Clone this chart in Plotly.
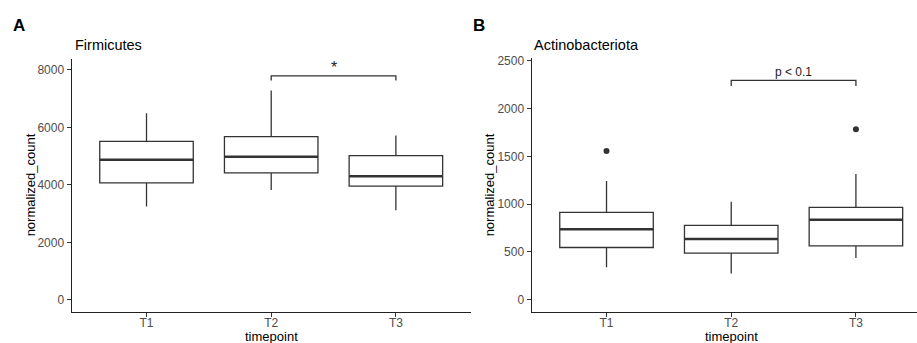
import plotly.graph_objects as go

# ---- data ----
timepoints = ["T1", "T2", "T3"]
xpos = [1, 2, 3]

firm_low = [3250, 3820, 3120]
firm_q1 = [4070, 4420, 3955]
firm_med = [4870, 4975, 4300]
firm_q3 = [5510, 5675, 5020]
firm_high = [6490, 7280, 5720]
firm_out_x = []
firm_out_y = []
firm_bracket = {"x1": 2, "x2": 3, "top": 7790, "tick": 7630, "label": "*",
                "label_y": 8090, "label_size": 16}

act_low = [340, 275, 437]
act_q1 = [547, 489, 564]
act_med = [737, 637, 837]
act_q3 = [915, 778, 967]
act_high = [1243, 1026, 1315]
act_out_x = [1, 3]
act_out_y = [1556, 1783]
act_bracket = {"x1": 2, "x2": 3, "top": 2293, "tick": 2234, "label": "p < 0.1",
               "label_y": 2380, "label_size": 12}

BOX_W = 0.75
LINE_C = "#333333"
W, H = 917, 343
FONT = "Liberation Sans, Arial, sans-serif"

fig = go.Figure()


def add_panel(xa, ya, low, q1, med, q3, high, ox, oy, br):
    xref = "x" if xa == 1 else "x%d" % xa
    yref = "y" if ya == 1 else "y%d" % ya
    fig.add_trace(go.Box(
        x=xpos, q1=q1, median=med, q3=q3, lowerfence=low, upperfence=high,
        width=BOX_W, whiskerwidth=0, fillcolor="white",
        line=dict(color=LINE_C, width=1.3), boxpoints=False,
        xaxis=xref, yaxis=yref, showlegend=False, hoverinfo="skip"))
    # thicker medians
    for xi, m in zip(xpos, med):
        fig.add_trace(go.Scatter(
            x=[xi - BOX_W / 2, xi + BOX_W / 2], y=[m, m], mode="lines",
            line=dict(color=LINE_C, width=2.5), xaxis=xref, yaxis=yref,
            showlegend=False, hoverinfo="skip"))
    if ox:
        fig.add_trace(go.Scatter(
            x=ox, y=oy, mode="markers",
            marker=dict(color=LINE_C, size=6), xaxis=xref, yaxis=yref,
            showlegend=False, hoverinfo="skip"))
    fig.add_trace(go.Scatter(
        x=[br["x1"], br["x1"], br["x2"], br["x2"]],
        y=[br["tick"], br["top"], br["top"], br["tick"]],
        mode="lines", line=dict(color=LINE_C, width=1.3),
        xaxis=xref, yaxis=yref, showlegend=False, hoverinfo="skip"))
    fig.add_annotation(x=(br["x1"] + br["x2"]) / 2, y=br["label_y"],
                       xref=xref, yref=yref, text=br["label"], showarrow=False,
                       font=dict(size=br["label_size"], color="#222222", family=FONT))


add_panel(1, 1, firm_low, firm_q1, firm_med, firm_q3, firm_high,
          firm_out_x, firm_out_y, firm_bracket)
add_panel(2, 2, act_low, act_q1, act_med, act_q3, act_high,
          act_out_x, act_out_y, act_bracket)

tickfont = dict(family=FONT, size=12, color="#4d4d4d")
common_x = dict(tickmode="array", tickvals=xpos, ticktext=timepoints,
                showline=True, linecolor="#222222", linewidth=1.3,
                ticks="outside", ticklen=4, tickcolor=LINE_C, tickwidth=1,
                ticklabelstandoff=-5,
                tickfont=tickfont, showgrid=False, zeroline=False, fixedrange=True)
common_y = dict(showline=True, linecolor="#222222", linewidth=1.3,
                ticks="outside", ticklen=4, tickcolor=LINE_C, tickwidth=1,
                tickfont=tickfont, showgrid=False, zeroline=False, fixedrange=True)

yb = 1 - 311.7 / H
fig.update_layout(
    width=W, height=H, margin=dict(l=0, r=0, t=0, b=0),
    paper_bgcolor="white", plot_bgcolor="white",
    font=dict(family=FONT, color="black"),
    xaxis=dict(common_x, domain=[71.7 / W, 470.7 / W], range=[0.4, 3.6], anchor="y"),
    yaxis=dict(common_y, domain=[yb, 1 - 56 / H], range=[-426, 8367],
               tickvals=[0, 2000, 4000, 6000, 8000], anchor="x"),
    xaxis2=dict(common_x, domain=[531.7 / W, 1.0],
                range=[0.4, 0.4 + (917 - 531.7) / 124.7], anchor="y2"),
    yaxis2=dict(common_y, domain=[yb, 1 - 55 / H], range=[-128, 2524],
                tickvals=[0, 500, 1000, 1500, 2000, 2500], anchor="x2"),
)

# panel letters, titles, axis titles
texts = [
    (18.5, 21.5, "<b>A</b>", 17, "center", 0),
    (479, 21.5, "<b>B</b>", 17, "center", 0),
    (72.5, 41.5, "Firmicutes", 14.5, "left", 0),
    (532, 41.5, "Actinobacteriota", 14.5, "left", 0),
    (30, 183.5, "normalized_count", 13, "center", -90),
    (489, 183.5, "normalized_count", 13, "center", -90),
    (271.5, 336.5, "timepoint", 13, "center", 0),
    (731, 336.5, "timepoint", 13, "center", 0),
]
for px, py, t, s, al, ang in texts:
    fig.add_annotation(x=px / W, y=1 - py / H, xref="paper", yref="paper",
                       text=t, showarrow=False, textangle=ang,
                       xanchor=al, yanchor="middle",
                       font=dict(size=s, color="black", family=FONT))

fig.write_html("out.html", config={"displayModeBar": False},
               post_script="document.body.style.margin='0';document.body.style.overflow='hidden';")
